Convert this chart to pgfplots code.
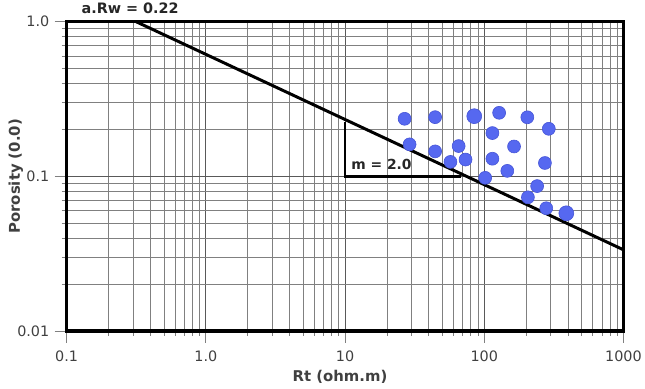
\documentclass[border=0pt]{standalone}
\usepackage{pgfplots}
\pgfplotsset{compat=1.18}
\usepackage{fontspec}
\setmainfont{DejaVu Sans}
\definecolor{dotblue}{RGB}{86,104,240}
\definecolor{dotedge}{RGB}{70,85,215}
\definecolor{ticklab}{RGB}{64,64,64}
\begin{document}
\begin{tikzpicture}
\begin{axis}[
  name=ax,
  xmode=log, ymode=log,
  scale only axis,
  width=560bp, height=311bp,
  xmin=0.1, xmax=1000, ymin=0.01, ymax=1,
  xtick={0.1,1,10,100,1000},
  xticklabels={0.1,1.0,10,100,1000},
  ytick={0.01,0.1,1},
  yticklabels={0.01,0.1,1.0},
  minor xtick={0.2,0.3,0.4,0.5,0.6,0.7,0.8,0.9,2,3,4,5,6,7,8,9,20,30,40,50,60,70,80,90,200,300,400,500,600,700,800,900},
  minor ytick={0.02,0.03,0.04,0.05,0.06,0.07,0.08,0.09,0.2,0.3,0.4,0.5,0.6,0.7,0.8,0.9},
  grid=both,
  major grid style={black!65, line width=0.7bp},
  minor grid style={black!50, line width=0.7bp},
  axis line style={black, line width=3.2bp},
  tick align=outside,
  major tick length=12bp,
  minor tick length=5bp,
  tick style={black!50, line width=0.7bp},
  xtick pos=bottom, ytick pos=left,
  tick label style={font=\fontsize{14.5}{16}\selectfont, text=ticklab},
  xticklabel style={yshift=-5bp},
  yticklabel style={xshift=-2bp},
  xlabel={\textbf{Rt (ohm.m)}},
  ylabel={\textbf{Porosity (0.0)}},
  label style={font=\fontsize{15}{17}\selectfont, text=ticklab},
  x label style={at={(axis description cs:0.491,-0.148)}, anchor=center},
  y label style={at={(axis description cs:-0.091,0.5)}, anchor=center, rotate=0},
  clip=false,
]
% Pickett line
\addplot[black, line width=3bp, no marks] coordinates {(0.316,1.0) (1000,0.0335)};
% slope triangle
\addplot[black, line width=2.8bp, no marks] coordinates {(10,0.224) (10,0.1) (68,0.1)};
% data points
\addplot[only marks, mark=*, mark size=6.5bp, mark options={fill=dotblue, draw=dotedge, line width=0.6bp}] coordinates {
(26.8,0.2356) (44.4,0.2414) (128,0.2576) (204,0.241) (291,0.203)
(114.5,0.1905) (29.1,0.161) (44.4,0.145) (65.5,0.157) (163.8,0.156)
(57.2,0.124) (73.4,0.1284) (114.5,0.130) (273,0.122) (146.5,0.1085)
(101.6,0.0978) (240,0.0865) (206,0.0732) (279,0.0622)
};
\addplot[only marks, mark=*, mark size=7.5bp, mark options={fill=dotblue, draw=dotedge, line width=0.6bp}] coordinates {
(84.8,0.245) (389,0.0577)
};
\node[font=\fontsize{14.5}{16}\selectfont\bfseries, text=black!85] at (rel axis cs:0.114,1.042) {a.Rw = 0.22};
\node[font=\fontsize{14}{16}\selectfont\bfseries, text=black!85, anchor=west, inner sep=0pt] at (rel axis cs:0.511,0.54) {m = 2.0};
\end{axis}
\path (ax.south west) ++(-67bp,-58bp) coordinate (bbsw);
\path (ax.north east) ++(18bp,21bp) coordinate (bbne);
\path (bbsw) rectangle (bbne);
\end{tikzpicture}
\end{document}
